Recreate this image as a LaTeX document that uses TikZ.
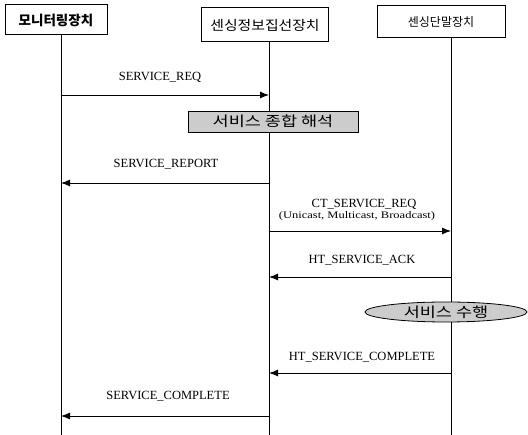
\documentclass[tikz,border=0pt]{standalone}
\usepackage{fontspec}
\usepackage{graphicx}
\setmainfont{Liberation Serif}
\newfontfamily\kr{Noto Sans CJK KR}
\usetikzlibrary{shapes.geometric,arrows.meta}
\begin{document}
\begin{tikzpicture}[x=1pt,y=-1pt,
  actor/.style={draw,line width=1pt,fill=white,font=\kr\fontsize{13.5}{15}\selectfont,inner sep=0pt,minimum height=30pt},
  life/.style={line width=0.9pt},
  msg/.style={line width=0.9pt,-{Latex[length=9pt,width=7pt]}},
  lbl/.style={font=\fontsize{12.5}{14}\selectfont,inner sep=0pt},
  proc/.style={draw,line width=0.8pt,fill=gray!40,font=\kr\fontsize{14}{15}\selectfont,inner sep=0pt}]
\useasboundingbox (0,0) rectangle (528,435);
% actors
\node[actor,minimum width=102pt,font=\kr\bfseries\fontsize{13.5}{15}\selectfont] (A) at (56,20) {모니터링장치};
\node[actor,minimum width=127pt,minimum height=34pt] (B) at (265,25) {\scalebox{1.1}[1]{센싱정보집선장치}};
\node[actor,minimum width=128pt,minimum height=32pt,font=\kr\fontsize{12}{14}\selectfont] (C) at (441,22) {센싱단말장치};
% lifeline ends
\coordinate (Aend) at (61,435);
\coordinate (Bend) at (269,435);
\coordinate (Cend) at (451,435);
\draw[life] (A.south -| Aend) -- (Aend);
\draw[life] (B.south -| Bend) -- (Bend);
\draw[life] (C.south -| Cend) -- (Cend);
% points on lifelines
\coordinate (a1) at (61,95);  \coordinate (b1) at (269,95);
\coordinate (a2) at (61,183); \coordinate (b2) at (269,183);
\coordinate (b3) at (269,231); \coordinate (c3) at (451,231);
\coordinate (b4) at (269,277); \coordinate (c4) at (451,277);
\coordinate (b5) at (269,373); \coordinate (c5) at (451,373);
\coordinate (a6) at (61,416); \coordinate (b6) at (269,416);
% process boxes
\node[proc,minimum width=170pt,minimum height=21pt] (P1) at (273,121.5) {\scalebox{1.25}[1]{서비스 종합 해석}};
\node[proc,ellipse,minimum width=162pt,minimum height=20pt] (P2) at (446,312) {\scalebox{1.25}[1]{서비스 수행}};
% messages
\draw[msg] (a1) -- (b1);
\node[lbl] (m1) at (160,77) {SERVICE\_REQ};
\draw[msg] (b2) -- (a2);
\node[lbl] (m2) at (166,164) {SERVICE\_REPORT};
\draw[msg] (b3) -- (c3);
\node[lbl] (m3) at (364,204) {CT\_SERVICE\_REQ};
\node[lbl,font=\fontsize{10}{11}\selectfont] (m3b) at (357,216) {\scalebox{1.25}[1]{(Unicast, Multicast, Broadcast)}};
\draw[msg] (c4) -- (b4);
\node[lbl] (m4) at (362,260) {HT\_SERVICE\_ACK};
\draw[msg] (c5) -- (b5);
\node[lbl] (m5) at (362,357) {HT\_SERVICE\_COMPLETE};
\draw[msg] (b6) -- (a6);
\node[lbl] (m6) at (168,396) {SERVICE\_COMPLETE};
\end{tikzpicture}
\end{document}
